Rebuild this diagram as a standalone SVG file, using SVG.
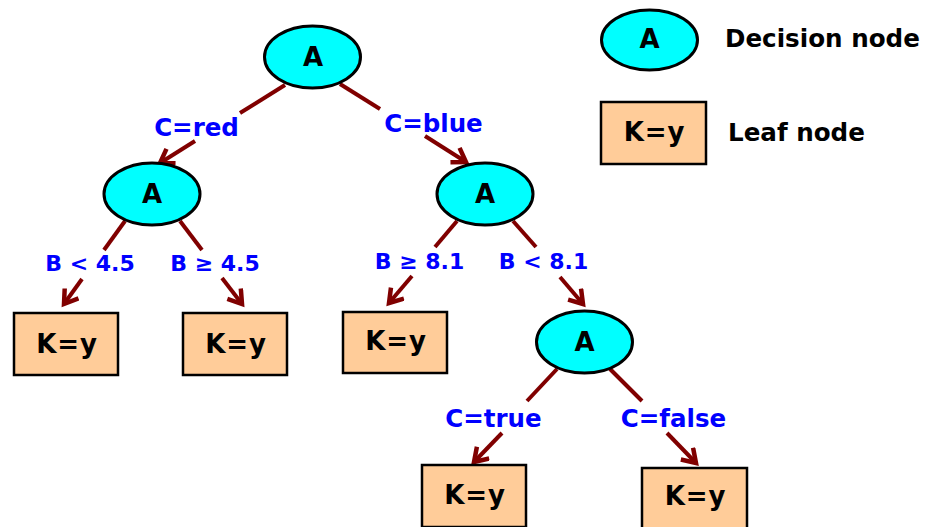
<svg xmlns="http://www.w3.org/2000/svg" width="928" height="527" viewBox="0 0 928 527">
<defs>
<style>
.dec{fill:#00ffff;stroke:#000;stroke-width:3}
.leaf{fill:#ffcc99;stroke:#000;stroke-width:2.5}
.nt{font-family:"DejaVu Sans","Liberation Sans",sans-serif;font-weight:bold;font-size:26px;fill:#000;text-anchor:middle}
.kt{letter-spacing:0.8px}
.lg{font-family:"DejaVu Sans","Liberation Sans",sans-serif;font-weight:bold;font-size:24.6px;fill:#000}
.el{font-family:"DejaVu Sans","Liberation Sans",sans-serif;font-weight:bold;font-size:24.5px;fill:#0000ff;text-anchor:middle}
.els{font-size:22px}
.e{stroke:#800000;stroke-width:4;fill:none}
</style>
<marker id="arr" markerUnits="userSpaceOnUse" markerWidth="24" markerHeight="24" refX="15" refY="10" orient="auto">
<path d="M2,1.5 L15,10 L2,18.5" fill="none" stroke="#800000" stroke-width="4.5"/>
</marker>
</defs>
<g id="connectors">
<line class="e" x1="285" y1="85" x2="240" y2="113"/>
<line class="e" x1="195" y1="141" x2="160" y2="163" marker-end="url(#arr)"/>
<line class="e" x1="340" y1="84" x2="380" y2="109"/>
<line class="e" x1="425" y1="136" x2="466" y2="162" marker-end="url(#arr)"/>
<line class="e" x1="125" y1="221" x2="104" y2="250"/>
<line class="e" x1="82" y1="279" x2="64" y2="304" marker-end="url(#arr)"/>
<line class="e" x1="180" y1="221" x2="202" y2="250"/>
<line class="e" x1="222" y1="278" x2="242" y2="304" marker-end="url(#arr)"/>
<line class="e" x1="457" y1="221" x2="435" y2="247"/>
<line class="e" x1="412" y1="276" x2="389" y2="303" marker-end="url(#arr)"/>
<line class="e" x1="513" y1="221" x2="536" y2="247"/>
<line class="e" x1="560" y1="277" x2="583" y2="304" marker-end="url(#arr)"/>
<line class="e" x1="557" y1="369" x2="527" y2="401"/>
<line class="e" x1="502" y1="433" x2="474" y2="462" marker-end="url(#arr)"/>
<line class="e" x1="610" y1="369" x2="642" y2="401"/>
<line class="e" x1="667" y1="433" x2="696" y2="463" marker-end="url(#arr)"/>
<text class="el" x="196.5" y="136">C=red</text>
<text class="el" x="433.5" y="132">C=blue</text>
<text class="el els" x="90" y="271">B &lt; 4.5</text>
<text class="el els" x="215" y="271">B ≥ 4.5</text>
<text class="el els" x="419.5" y="269">B ≥ 8.1</text>
<text class="el els" x="543.5" y="269">B &lt; 8.1</text>
<text class="el" x="493.5" y="427">C=true</text>
<text class="el" x="673.5" y="427">C=false</text>
</g>
<g id="root"><ellipse class="dec" cx="312.5" cy="57" rx="48" ry="31"/><text class="nt" x="313" y="66">A</text></g>
<g id="decL"><ellipse class="dec" cx="152" cy="194" rx="48" ry="31"/><text class="nt" x="152" y="203">A</text></g>
<g id="decR"><ellipse class="dec" cx="485" cy="194" rx="48" ry="31"/><text class="nt" x="485" y="203">A</text></g>
<g id="decB"><ellipse class="dec" cx="584.5" cy="342" rx="48" ry="31"/><text class="nt" x="584.5" y="351">A</text></g>
<g id="leaf1"><rect class="leaf" x="14" y="313" width="104" height="62"/><text class="nt kt" x="67" y="353">K=y</text></g>
<g id="leaf2"><rect class="leaf" x="183" y="313" width="104" height="62"/><text class="nt kt" x="236" y="353">K=y</text></g>
<g id="leaf3"><rect class="leaf" x="343" y="312" width="104" height="61"/><text class="nt kt" x="396" y="350">K=y</text></g>
<g id="leaf4"><rect class="leaf" x="422" y="465" width="104" height="62"/><text class="nt kt" x="475" y="504">K=y</text></g>
<g id="leaf5"><rect class="leaf" x="642" y="468" width="105" height="62"/><text class="nt kt" x="695.5" y="505">K=y</text></g>
<g id="legend">
<g id="legendDec"><ellipse class="dec" cx="649.5" cy="40" rx="48" ry="30"/><text class="nt" x="649.5" y="48">A</text></g>
<text class="lg" x="725" y="47">Decision node</text>
<g id="legendLeaf"><rect class="leaf" x="601" y="102" width="105" height="62"/><text class="nt kt" x="654.5" y="141">K=y</text></g>
<text class="lg" x="728" y="141">Leaf node</text>
</g>
</svg>
